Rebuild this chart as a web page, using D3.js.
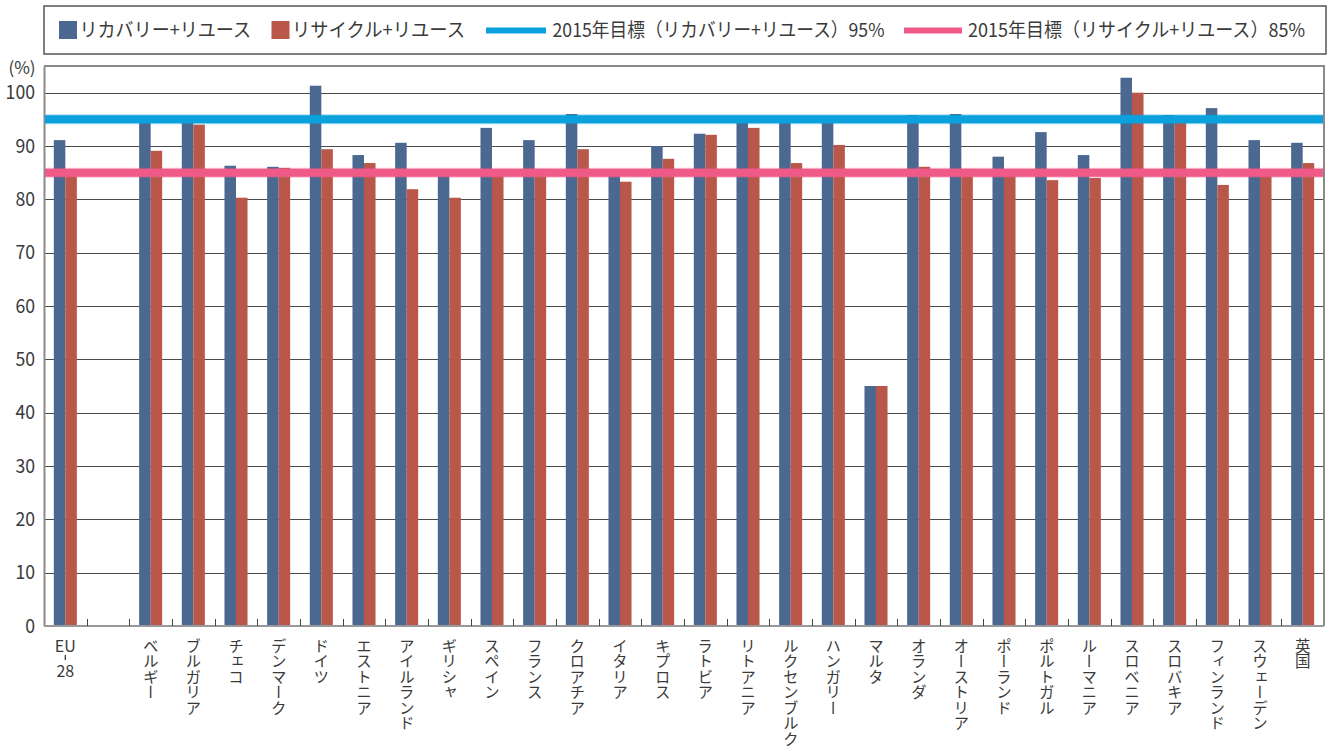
<!DOCTYPE html>
<html>
<head>
<meta charset="utf-8">
<script src="https://cdn.jsdelivr.net/npm/d3@7"></script>
<style>
  html, body { margin: 0; padding: 0; background: #fff; }
  svg { display: block; font-family: "Noto Sans CJK JP", "Noto Sans", sans-serif; }
</style>
</head>
<body>
<svg id="chart" width="1327" height="749"></svg>
<script>
// Countries (an empty slot separates the EU-28 average from the member states)
const categories = ["EU28", "", "ベルギー", "ブルガリア", "チェコ", "デンマーク", "ドイツ", "エストニア",
  "アイルランド", "ギリシャ", "スペイン", "フランス", "クロアチア", "イタリア", "キプロス", "ラトビア",
  "リトアニア", "ルクセンブルク", "ハンガリー", "マルタ", "オランダ", "オーストリア", "ポーランド",
  "ポルトガル", "ルーマニア", "スロベニア", "スロバキア", "フィンランド", "スウェーデン", "英国"];

// Reuse + recovery rate (%)
const recoveryValues = [91.1, null, 94.8, 94.8, 86.3, 86.1, 101.3, 88.3, 90.6, 84.9, 93.4, 91.1, 96.0,
  84.8, 90.0, 92.3, 94.8, 94.8, 94.8, 45.0, 95.8, 96.0, 88.0, 92.6, 88.3, 102.8, 95.8, 97.1, 91.1, 90.6];

// Reuse + recycling rate (%)
const recyclingValues = [84.8, null, 89.1, 94.0, 80.3, 85.9, 89.4, 86.8, 81.9, 80.3, 85.0, 85.7, 89.4,
  83.3, 87.6, 92.1, 93.4, 86.8, 90.2, 45.0, 86.1, 85.7, 84.8, 83.6, 84.0, 100.0, 94.5, 82.7, 84.8, 86.8];

// 2015 targets (%)
const targetValues = [95, 85];
const seriesNames = ["リカバリー+リユース", "リサイクル+リユース"];
const targetNames = ["2015年目標（リカバリー+リユース）95%", "2015年目標（リサイクル+リユース）85%"];
const yTicks = [0, 10, 20, 30, 40, 50, 60, 70, 80, 90, 100];

const barColors = ["#4a6890", "#b9574a"];
const targetColors = ["#0aa1dd", "#f05a89"];
const textColor = "#3a3a3a";

const svg = d3.select("#chart");
const plot = { left: 44, right: 1324, top: 66, bottom: 626 };

const y = d3.scaleLinear().domain([0, 105]).range([plot.bottom, plot.top]);
const x0 = d3.scaleBand().domain(d3.range(categories.length)).range([plot.left, plot.right]).padding(0);
const groupW = x0.bandwidth() * 0.54;
const x1 = d3.scaleBand().domain([0, 1]).range([0, groupW]).padding(0);

// Horizontal gridlines
svg.append("g")
  .selectAll("line")
  .data(yTicks.filter(t => t > 0))
  .join("line")
  .attr("x1", plot.left).attr("x2", plot.right)
  .attr("y1", d => Math.round(y(d)) + 0.5).attr("y2", d => Math.round(y(d)) + 0.5)
  .attr("stroke", "#4a4a4a").attr("stroke-width", 1.2);

// Plot frame: top and right edges
svg.append("path")
  .attr("d", `M${plot.left},${plot.top}H${plot.right}V${plot.bottom}`)
  .attr("fill", "none").attr("stroke", "#8a8a8a").attr("stroke-width", 2);

// Bars
const series = [recoveryValues, recyclingValues];
const barLayer = svg.append("g");
series.forEach((vals, si) => {
  barLayer.append("g")
    .selectAll("rect")
    .data(vals.map((v, i) => ({ v, i })).filter(d => d.v != null))
    .join("rect")
    .attr("x", d => x0(d.i) + (x0.bandwidth() - groupW) / 2 + x1(si))
    .attr("width", x1.bandwidth())
    .attr("y", d => y(d.v))
    .attr("height", d => y(0) - y(d.v))
    .attr("fill", barColors[si]);
});

// Y axis
const yAxis = svg.append("g")
  .attr("transform", `translate(${plot.left},0)`)
  .call(d3.axisLeft(y).tickValues(yTicks).tickSize(0).tickPadding(9));
yAxis.select(".domain").attr("stroke", "#8a8a8a").attr("stroke-width", 2);
yAxis.selectAll("text")
  .attr("font-size", 19.5).attr("fill", textColor)
  .attr("font-family", "'Noto Sans CJK JP', sans-serif")
  .attr("textLength", d => String(d).length * 9.8)
  .attr("lengthAdjust", "spacingAndGlyphs");

svg.append("text")
  .attr("x", 22).attr("y", 68).attr("dy", "0.35em")
  .attr("text-anchor", "middle").attr("font-size", 17).attr("fill", textColor)
  .text("(%)");

// X axis baseline with inner ticks at category boundaries
svg.append("line")
  .attr("x1", plot.left).attr("x2", plot.right)
  .attr("y1", plot.bottom).attr("y2", plot.bottom)
  .attr("stroke", "#999").attr("stroke-width", 2);
svg.append("g")
  .selectAll("line")
  .data(d3.range(1, categories.length))
  .join("line")
  .attr("x1", d => Math.round(x0(d)) + 0.5).attr("x2", d => Math.round(x0(d)) + 0.5)
  .attr("y1", plot.bottom - 7).attr("y2", plot.bottom)
  .attr("stroke", "#444").attr("stroke-width", 1);

// Target lines
targetValues.forEach((t, i) => {
  svg.append("line")
    .attr("x1", plot.left + 1).attr("x2", plot.right - 1)
    .attr("y1", y(t)).attr("y2", y(t))
    .attr("stroke", targetColors[i]).attr("stroke-opacity", 0.35).attr("stroke-width", 10);
  svg.append("line")
    .attr("x1", plot.left + 1).attr("x2", plot.right - 1)
    .attr("y1", y(t)).attr("y2", y(t))
    .attr("stroke", targetColors[i]).attr("stroke-width", 8);
});

// Category labels, written vertically
const labels = svg.append("g");
categories.forEach((c, i) => {
  if (!c) return;
  const cx = x0(i) + x0.bandwidth() / 2;
  if (c === "EU28") {
    labels.append("text").attr("x", cx).attr("y", 652)
      .attr("text-anchor", "middle").attr("font-size", 16).attr("fill", textColor).text("EU");
    labels.append("line").attr("x1", cx).attr("x2", cx).attr("y1", 655).attr("y2", 660)
      .attr("stroke", textColor).attr("stroke-width", 1.3);
    labels.append("text").attr("x", cx).attr("y", 677)
      .attr("text-anchor", "middle").attr("font-size", 16).attr("fill", textColor).text("28");
    return;
  }
  labels.append("text")
    .attr("x", cx).attr("y", 638)
    .attr("font-size", 15.5).attr("fill", textColor)
    .style("writing-mode", "vertical-rl")
    .style("text-orientation", "upright")
    .attr("text-anchor", "start")
    .text(c);
});

// Legend
const legend = svg.append("g");
legend.append("rect")
  .attr("x", 44).attr("y", 6).attr("width", 1282).attr("height", 48)
  .attr("fill", "none").attr("stroke", "#555").attr("stroke-width", 1.5);

const legendText = (x, w, s) => legend.append("text")
  .attr("x", x).attr("y", 30).attr("dy", "0.35em")
  .attr("font-size", 19).attr("fill", textColor)
  .attr("textLength", w).attr("lengthAdjust", "spacingAndGlyphs")
  .text(s);

legend.append("rect").attr("x", 59).attr("y", 21).attr("width", 18).attr("height", 18).attr("fill", barColors[0]);
legendText(79.5, 171.5, seriesNames[0]);
legend.append("rect").attr("x", 271.5).attr("y", 21).attr("width", 18).attr("height", 18).attr("fill", barColors[1]);
legendText(292, 173, seriesNames[1]);
legend.append("line").attr("x1", 486).attr("x2", 546).attr("y1", 30.5).attr("y2", 30.5)
  .attr("stroke", targetColors[0]).attr("stroke-width", 6);
legendText(552.5, 332, targetNames[0]);
legend.append("line").attr("x1", 904).attr("x2", 962).attr("y1", 30.5).attr("y2", 30.5)
  .attr("stroke", targetColors[1]).attr("stroke-width", 6);
legendText(968, 337, targetNames[1]);
</script>
</body>
</html>
